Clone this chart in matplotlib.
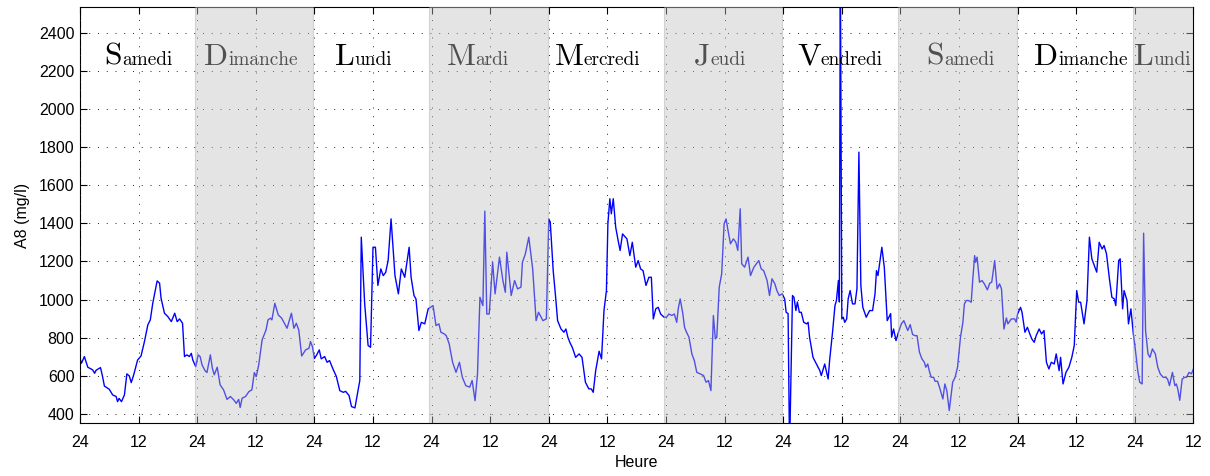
import numpy as np
import matplotlib
matplotlib.use('Agg')
import matplotlib.pyplot as plt
from matplotlib import transforms

# noms des jours (premier = samedi a 24h)
jours = ['Samedi', 'Dimanche', 'Lundi', 'Mardi', 'Mercredi', 'Jeudi',
         'Vendredi', 'Samedi', 'Dimanche', 'Lundi']
# debut des jours grises (heures)
debut_gris = [24, 72, 120, 168, 216]

# mesures A8 (mg/l), temps en heures depuis le debut
heures = [
    # samedi
    0, 0.3, 0.9, 1.6, 2.6, 3.0, 3.3, 4.2, 4.6, 5.0, 6.0, 6.7, 7.4, 7.7, 8.0, 8.5,
    9.1, 9.6, 10.1, 10.5, 11.0, 11.8, 12.5, 13.2, 13.9, 14.4, 14.9, 15.5, 15.8,
    16.3, 16.6, 17.3, 18.0, 18.7, 19.4, 19.9, 20.4, 21.0, 21.4, 21.9, 22.4, 22.8,
    23.1, 23.7,
    # dimanche
    24.2, 24.6, 25.0, 25.6, 26.0, 26.7, 27.1, 27.5, 28.1, 28.7, 29.4, 30.1, 30.8,
    31.5, 32.0, 32.5, 32.8, 33.2, 33.9, 34.6, 35.2, 35.7, 36.1, 36.6, 37.3, 38.1,
    38.5, 39.0, 39.3, 39.9, 40.2, 40.6, 41.3, 42.4, 43.3, 43.8, 44.3, 44.8, 45.4,
    46.2, 46.9, 47.2, 47.6,
    # lundi
    48.0, 48.5, 49.0, 49.4, 50.1, 50.6, 51.1, 51.8, 52.5, 53.2, 53.9, 54.4, 55.1,
    55.6, 56.3, 56.8, 57.3, 57.6, 58.3, 59.0, 59.5, 60.0, 60.5, 61.0, 61.6, 62.1,
    62.6, 63.1, 63.7, 64.5, 65.2, 65.8, 66.5, 67.4, 67.8, 68.4, 68.8, 69.4, 69.9,
    70.6, 71.3,
    # mardi
    72.3, 72.9, 73.5, 73.9, 74.6, 75.0, 75.6, 76.3, 77.0, 77.7, 78.3, 79.0, 79.8,
    80.3, 80.9, 81.4, 81.9, 82.5, 82.9, 83.3, 83.8, 84.5, 85.0, 85.9, 86.6, 87.1,
    87.4, 88.3, 89.0, 89.6, 90.3, 90.6, 91.2, 91.9, 92.7, 93.4, 93.9, 94.8, 95.5,
    # mercredi
    96.0, 96.3, 96.9, 97.4, 97.8, 98.5, 99.1, 99.5, 99.9, 100.3, 100.8, 101.5,
    102.2, 102.8, 103.5, 104.2, 104.7, 105.1, 105.6, 106.3, 106.8, 107.3, 107.8,
    108.1, 108.5, 108.8, 109.2, 109.7, 110.2, 110.6, 111.1, 112.0, 112.6, 113.1,
    113.8, 114.3, 114.8, 115.3, 115.9, 116.5, 117.0, 117.4, 117.9, 118.4, 118.9,
    119.6,
    # jeudi
    120.1, 120.6, 121.2, 121.7, 122.2, 122.5, 122.9, 123.4, 123.8, 124.2, 124.7,
    125.3, 125.8, 126.3, 127.0, 127.7, 128.2, 128.7, 129.2, 129.7, 130.1, 130.4,
    130.9, 131.4, 131.9, 132.3, 132.7, 133.2, 133.8, 134.3, 134.7, 135.2, 135.5,
    136.1, 136.8, 137.3, 138.0, 139.0, 139.5, 140.0, 140.7, 141.2, 141.7, 142.3,
    142.7, 143.2, 143.8,
    # vendredi
    144.3, 144.6, 145.0, 145.3, 145.9, 146.2, 146.6, 146.9, 147.3, 147.7, 148.2,
    148.8, 149.1, 149.4, 150.1, 150.8, 151.5, 151.8, 152.5, 153.2, 153.5, 154.1,
    154.6, 154.9, 155.3, 155.5, 155.7, 156.0, 156.3, 156.6, 157.0, 157.3, 157.7,
    158.2, 158.7, 159.1, 159.5, 159.9, 160.3, 161.0, 161.7, 162.3, 162.8, 163.1,
    163.4, 164.2, 164.7, 165.3, 166.0, 166.2, 166.6, 167.1, 167.6,
    # samedi
    168.2, 168.7, 169.1, 169.5, 170.0, 170.5, 171.0, 171.4, 171.9, 172.4, 172.9,
    173.2, 173.6, 173.9, 174.3, 174.8, 175.1, 175.6, 176.0, 176.3, 176.7, 177.1,
    177.5, 178.0, 178.4, 178.7, 179.2, 179.7, 180.3, 180.8, 181.1, 181.5, 181.9,
    182.5, 182.8, 183.2, 183.4, 183.7, 184.2, 184.7, 185.2, 185.8, 186.3, 186.7,
    187.3, 187.8, 188.3, 188.7, 189.2, 189.7, 190.0, 190.7, 191.4, 191.7,
    # dimanche
    192.0, 192.6, 192.9, 193.5, 194.0, 194.5, 194.9, 195.4, 195.8, 196.4, 196.9,
    197.4, 197.9, 198.4, 198.9, 199.5, 199.9, 200.5, 200.8, 201.3, 201.9, 202.5,
    203.1, 203.6, 204.1, 204.5, 204.9, 205.6, 206.2, 206.7, 207.2, 207.7, 208.2,
    208.7, 209.3, 209.7, 210.2, 210.8, 211.3, 211.8, 212.1, 212.7, 213.0, 213.5,
    213.8, 214.4, 214.7, 215.2, 215.7,
    # lundi
    216.0, 216.6, 217.0, 217.5, 217.8, 218.2, 218.7, 219.1, 219.6, 220.2, 220.7,
    221.2, 221.8, 222.3, 222.7, 223.1, 223.7, 224.2, 224.5, 224.8, 225.2, 225.7,
    226.2, 226.6, 227.1, 227.6, 228.0,
]
a8 = [
    # samedi
    690, 665, 700, 644, 630, 612, 628, 642, 598, 545, 528, 498, 490, 463, 480, 463,
    498, 609, 598, 563, 604, 682, 703, 779, 867, 893, 980, 1060, 1098,
    1086, 1007, 928, 910, 884, 928, 884, 898, 875, 700, 709, 700, 717,
    682, 647,
    # dimanche
    709, 700, 656, 626, 616, 709, 639, 604, 644, 551, 525, 475, 490,
    472, 454, 475, 432, 481, 490, 516, 525, 616, 595, 656, 788, 840,
    893, 902, 893, 980, 954, 919, 902, 849, 928, 849, 875, 840, 703,
    735, 744, 779, 752,
    # lundi
    690, 710, 735, 688, 700, 670, 679, 635, 595, 521, 512, 517, 495,
    437, 430, 503, 574, 1328, 977, 758, 749, 1275, 1275, 1074, 1161, 1126,
    1143, 1205, 1424, 1126, 1030, 1161, 1117, 1275, 1117, 1021, 1003, 837, 880,
    872, 951,
    # mardi
    968, 863, 872, 828, 819, 810, 767, 670, 617, 670, 591, 547, 539,
    574, 468, 609, 1012, 968, 1465, 924, 924, 1196, 1030, 1223, 1100, 1038,
    1249, 1021, 1100, 1056, 1065, 1196, 1240, 1328, 1161, 889, 933, 889, 898,
    # mercredi
    1424, 1407, 1152, 1012, 889, 845, 828, 845, 802, 775, 749, 696,
    714, 696, 565, 530, 530, 512, 626, 728, 688, 942, 1047,
    1398, 1530, 1451, 1530, 1380, 1310, 1258, 1345, 1319, 1231, 1301,
    1170, 1205, 1161, 1152, 1074, 1117, 1117, 898, 951, 959, 924,
    907,
    # jeudi
    907, 924, 916, 924, 880, 951, 1003, 933, 854, 828, 802,
    714, 679, 617, 609, 600, 565, 574, 521, 916, 793, 802,
    1065, 1135, 1398, 1424, 1363, 1293, 1319, 1301, 1258, 1477, 1188,
    1170, 1223, 1126, 1170, 1205, 1161, 1152, 1100, 1021, 1109, 1082,
    1047, 1021, 1030,
    # vendredi
    1003, 933, 926, 200, 1021, 1012, 942, 987, 933, 933, 880,
    872, 880, 802, 696, 661, 626, 600, 661, 582, 679, 828,
    968, 995, 1100, 987, 2800, 898, 907, 880, 898, 1003, 1047,
    977, 977, 1056, 1775, 1073, 959, 907, 942, 942, 1030, 1152,
    1126, 1275, 1170, 889, 926, 802, 845, 784, 828,
    # samedi
    872, 889, 863, 837, 868, 816, 810, 810, 723, 688, 670,
    644, 661, 626, 591, 591, 570, 570, 539, 512, 477, 556,
    521, 416, 503, 565, 591, 644, 802, 881, 977, 995, 995,
    986, 1100, 1231, 1196, 1223, 1091, 1100, 1082, 1051, 1086, 1091,
    1205, 1056, 1082, 1056, 845, 903, 872, 898, 898, 881,
    # dimanche
    924, 959, 933, 828, 854, 819, 793, 775, 810, 845, 819,
    837, 670, 635, 670, 661, 714, 626, 696, 556, 617, 644,
    696, 758, 1047, 986, 986, 872, 995, 1328, 1214, 1179, 1144,
    1301, 1266, 1284, 1240, 1109, 1012, 1003, 968, 1205, 1214, 951,
    1047, 995, 872, 951, 819,
    # lundi
    760, 626, 565, 556, 1349, 837, 714, 696, 740, 714, 644,
    609, 591, 591, 582, 547, 617, 547, 556, 530, 470, 582,
    591, 591, 617, 609, 635,
]

# centre des noms de jours (heures)
centre_jours = [12, 35, 58, 81.4, 106, 131, 155.6, 180.3, 205, 221.7]

plt.rcParams['font.family'] = ['Liberation Sans', 'DejaVu Sans']

fig = plt.figure(figsize=(12.1, 4.76), dpi=100)
ax = fig.add_axes([0.0661, 0.1103, 0.9202, 0.8744])

ax.plot(heures, a8, color='blue', lw=1.0, zorder=2)

# bandes grises (par dessus, transparentes)
for d in debut_gris:
    ax.axvspan(d - 0.45, min(d + 23.8, 228), facecolor='#c0c0c0', alpha=0.42,
               edgecolor='#a8a8a8', lw=0.8, zorder=5)

ax.set_xlim(0, 228)
ax.set_ylim(348, 2537)
ax.set_xticks(np.arange(0, 229, 12))
ax.set_xticklabels(['24' if i % 2 == 0 else '12' for i in range(20)])
ax.set_yticks(np.arange(400, 2401, 200))
ax.grid(True, color='#222222', linestyle=(0, (1, 8)), linewidth=0.7)
ax.set_axisbelow(False)
ax.tick_params(direction='in', top=True, right=True, length=5, labelsize=11.5)
ax.tick_params(axis='x', pad=8)
ax.tick_params(axis='y', pad=4)
ax.set_xlabel('Heure', fontsize=11.5, labelpad=4)
ax.set_ylabel('A8 (mg/l)', fontsize=11.5, labelpad=6)

# noms des jours : grande initiale + reste en petit
fig.canvas.draw()
r = fig.canvas.get_renderer()
for nom, hc in zip(jours, centre_jours):
    t1 = ax.text(hc, 2235, nom[0], fontsize=22.8, family='cmr10',
                 va='baseline', ha='left', zorder=3)
    t2 = ax.text(hc, 2235, nom[1:], fontsize=13.9, family='cmr10',
                 va='baseline', ha='left', zorder=3)
    w1 = t1.get_window_extent(r).width
    w2 = t2.get_window_extent(r).width
    tot = w1 + w2
    t1.set_transform(transforms.offset_copy(ax.transData, fig=fig, x=-tot / 2, y=0, units='dots'))
    t2.set_transform(transforms.offset_copy(ax.transData, fig=fig, x=-tot / 2 + w1, y=0, units='dots'))

fig.savefig('out.png', dpi=100)
